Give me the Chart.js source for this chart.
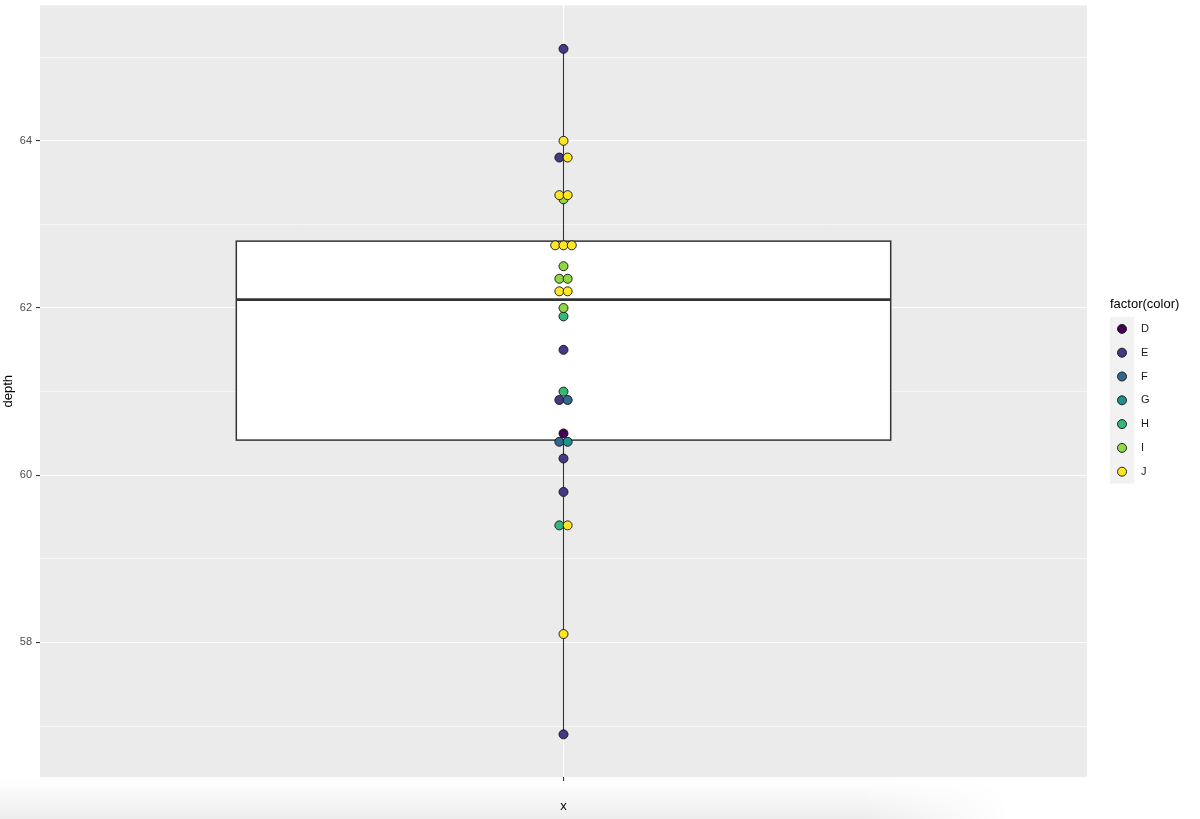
<!DOCTYPE html>
<html>
<head>
<meta charset="utf-8">
<script src="https://cdn.jsdelivr.net/npm/chart.js@4/dist/chart.umd.min.js"></script>
<style>
  html, body { margin: 0; padding: 0; background: #ffffff; }
  #wrap { position: relative; width: 1200px; height: 819px; overflow: hidden; }
  #shade { position: absolute; left: 0; bottom: 0; width: 1010px; height: 40px;
    background: linear-gradient(to bottom, rgba(0,0,0,0) 0%, rgba(0,0,0,0.07) 100%);
    -webkit-mask-image: linear-gradient(to right, #000 85%, transparent 100%);
    mask-image: linear-gradient(to right, #000 85%, transparent 100%); }
  canvas { position: absolute; left: 0; top: 0; }
</style>
</head>
<body>
<div id="wrap">
  <div id="shade"></div>
  <canvas id="c" width="1200" height="819"></canvas>
</div>
<script>
// ---- data ----
const colorLevels = ['D', 'E', 'F', 'G', 'H', 'I', 'J'];
const levelColors = ['#440154', '#443A83', '#31688E', '#21908C', '#35B779', '#8FD744', '#FDE725'];
const depthD = [60.5];
const depthE = [65.1, 63.8, 61.5, 60.9, 60.2, 59.8, 56.9];
const depthF = [60.9, 60.4];
const depthG = [60.4];
const depthH = [61.9, 61.0, 59.4];
const depthI = [63.3, 62.5, 62.35, 62.35, 62.0];
const depthJ = [64.0, 63.8, 63.35, 63.35, 62.75, 62.75, 62.75, 62.2, 62.2, 59.4, 58.1];
const boxWhiskerLow = 56.9;
const boxQ1 = 60.42;
const boxMedian = 62.1;
const boxQ3 = 62.8;
const boxWhiskerHigh = 65.1;
const yTickValues = [57, 58, 59, 60, 61, 62, 63, 64, 65];
const yTickLabels = ['', '58', '', '60', '', '62', '', '64', ''];
const xCategory = 'x';

// ---- layout constants ----
const BOX_HALF = 0.375;      // ggplot box width 0.75
const DOT_STEP = 0.0095;     // horizontal step between stacked dots (data units)

const depthByLevel = [depthD, depthE, depthF, depthG, depthH, depthI, depthJ];

// centred stacking of dots sharing the same value, in colour order
const groups = {};
depthByLevel.forEach((vals, li) => vals.forEach(v => {
  const k = v.toFixed(2);
  (groups[k] = groups[k] || []).push(li);
}));
const pointsByLevel = depthByLevel.map(() => []);
Object.keys(groups).forEach(k => {
  const members = groups[k];
  const n = members.length;
  members.forEach((li, i) => {
    pointsByLevel[li].push({ x: (i - (n - 1) / 2) * DOT_STEP, y: parseFloat(k) });
  });
});

const datasets = colorLevels.map((lvl, li) => ({
  label: lvl,
  data: pointsByLevel[li],
  backgroundColor: levelColors[li],
  borderColor: '#111111',
  borderWidth: 0.9,
  pointRadius: 4.5,
  pointHoverRadius: 4.5,
  order: colorLevels.length - li   // later levels drawn on top
}));

const FONT = '"Liberation Sans", Arial, Helvetica, sans-serif';

const panelBg = {
  id: 'panelBg',
  beforeDraw(chart) {
    const { ctx, chartArea: a } = chart;
    ctx.save();
    ctx.fillStyle = '#EBEBEB';
    ctx.fillRect(a.left, a.top, a.right - a.left, a.bottom - a.top);
    ctx.restore();
  }
};

const boxPlot = {
  id: 'boxPlot',
  beforeDatasetsDraw(chart) {
    const { ctx } = chart;
    const xs = chart.scales.x, ys = chart.scales.y;
    const xc = xs.getPixelForValue(0);
    const xl = xs.getPixelForValue(-BOX_HALF);
    const xr = xs.getPixelForValue(BOX_HALF);
    const yLow = ys.getPixelForValue(boxWhiskerLow);
    const yHigh = ys.getPixelForValue(boxWhiskerHigh);
    const y1 = ys.getPixelForValue(boxQ1);
    const y3 = ys.getPixelForValue(boxQ3);
    const ym = ys.getPixelForValue(boxMedian);
    ctx.save();
    ctx.strokeStyle = '#333333';
    ctx.lineWidth = 1.1;
    ctx.beginPath();
    ctx.moveTo(xc, yLow); ctx.lineTo(xc, yHigh);
    ctx.stroke();
    ctx.fillStyle = '#ffffff';
    ctx.fillRect(xl, y3, xr - xl, y1 - y3);
    ctx.lineWidth = 1.5;
    ctx.strokeRect(xl, y3, xr - xl, y1 - y3);
    ctx.lineWidth = 2.6;
    ctx.beginPath();
    ctx.moveTo(xl, ym); ctx.lineTo(xr, ym);
    ctx.stroke();
    ctx.restore();
  }
};

const ggLegend = {
  id: 'ggLegend',
  afterDraw(chart) {
    const { ctx } = chart;
    ctx.save();
    ctx.fillStyle = '#000000';
    ctx.font = '13px ' + FONT;
    ctx.textBaseline = 'middle';
    ctx.textAlign = 'left';
    ctx.fillText('factor(color)', 1110, 304);
    const top = 317, step = 23.8, keyX = 1110, keyW = 24;
    ctx.fillStyle = '#F2F2F2';
    ctx.fillRect(keyX, top, keyW, step * colorLevels.length);
    colorLevels.forEach((lvl, i) => {
      const cy = top + step * (i + 0.5);
      ctx.beginPath();
      ctx.arc(keyX + keyW / 2, cy, 4.5, 0, Math.PI * 2);
      ctx.fillStyle = levelColors[i];
      ctx.fill();
      ctx.lineWidth = 0.9;
      ctx.strokeStyle = '#111111';
      ctx.stroke();
      ctx.fillStyle = '#1a1a1a';
      ctx.font = '11px ' + FONT;
      ctx.fillText(lvl, 1141, cy);
    });
    ctx.restore();
  }
};

new Chart(document.getElementById('c'), {
  type: 'scatter',
  data: { datasets },
  plugins: [panelBg, boxPlot, ggLegend],
  options: {
    responsive: false,
    animation: false,
    devicePixelRatio: 1,
    layout: { padding: { left: 0, top: 4, right: 113, bottom: 0 } },
    plugins: { legend: { display: false }, tooltip: { enabled: false } },
    scales: {
      x: {
        type: 'linear',
        min: -0.6, max: 0.6,
        afterBuildTicks(scale) { scale.ticks = [{ value: 0 }]; },
        afterFit(scale) { scale.height = 42; scale.paddingLeft = 0; scale.paddingRight = 0; },
        border: { display: false },
        grid: { color: '#ffffff', lineWidth: 1.1, tickColor: '#333333', tickLength: 4, tickWidth: 1.1 },
        ticks: { display: false },
        title: { display: true, text: xCategory, color: '#000000', font: { family: FONT, size: 13 }, padding: { top: 0, bottom: 5 } }
      },
      y: {
        type: 'linear',
        min: 56.39, max: 65.62,
        afterBuildTicks(scale) { scale.ticks = yTickValues.map(v => ({ value: v })); },
        afterFit(scale) { scale.width = 40; scale.paddingTop = 0; scale.paddingBottom = 0; },
        border: { display: false },
        grid: {
          color: '#ffffff',
          lineWidth: ctx => (ctx.tick && yTickLabels[yTickValues.indexOf(ctx.tick.value)] !== '' ? 1.1 : 0.55),
          tickColor: ctx => (ctx.tick && yTickLabels[yTickValues.indexOf(ctx.tick.value)] !== '' ? '#333333' : 'rgba(0,0,0,0)'),
          tickWidth: 1.1,
          tickLength: 4
        },
        ticks: {
          padding: 4,
          color: '#4D4D4D',
          font: { family: FONT, size: 11 },
          autoSkip: false,
          callback: (v) => { const i = yTickValues.indexOf(v); return i >= 0 ? yTickLabels[i] : ''; }
        },
        title: { display: true, text: 'depth', color: '#000000', font: { family: FONT, size: 13 }, padding: { top: 1, bottom: 0 } }
      }
    }
  }
});
</script>
</body>
</html>
